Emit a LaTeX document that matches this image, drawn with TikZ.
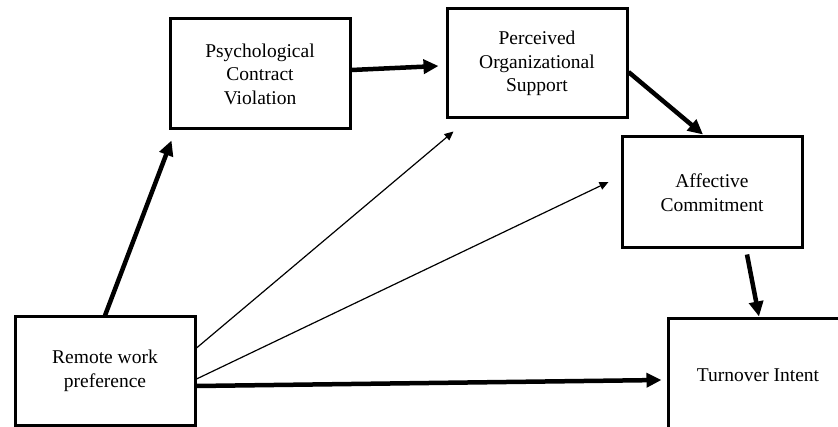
\documentclass[tikz,border=0pt]{standalone}
\usepackage{fontspec}
\setmainfont{Liberation Serif}
\usetikzlibrary{arrows.meta}
\begin{document}
\begin{tikzpicture}[x=1pt,y=-1pt,
  box/.style={draw, line width=3pt, rectangle, inner sep=0pt, align=center,
    minimum width=180pt, font=\fontsize{19.5}{23.5}\selectfont},
  bold/.style={line width=4.5pt, -{Triangle[length=15pt,width=14pt]}},
  fine/.style={line width=1.2pt, -{Triangle[length=9pt,width=8pt]}},
]
\useasboundingbox (0,0) rectangle (838,427);
\fill[white] (0,0) rectangle (838,427);
\clip (0,0) rectangle (838,427);

% constructs
\node[box, minimum height=110pt] (pcv) at (260,74) {Psychological\\Contract\\Violation};
\node[box, minimum height=109pt] (pos) at (537,63.5) {Perceived\\Organizational\\Support};
\node[box, minimum height=111pt] (ac) at (712,192.5) {Affective\\Commitment};
\node[box, minimum height=108pt] (rw) at (105,371) {Remote work\\preference};
\node[box, minimum height=113pt] (ti) at (758,375.5) {Turnover Intent};

% hypothesised paths
\draw[bold] (rw.north) -- ([xshift=3pt,yshift=-10pt]pcv.south west);
\draw[bold] ([yshift=4pt]pcv.east) -- ([xshift=-7pt,yshift=-2.5pt]pos.west);
\draw[bold] ([yshift=-8.5pt]pos.east) -- ([xshift=-9pt,yshift=1pt]ac.north);
\draw[bold] ([xshift=35pt,yshift=-5pt]ac.south) -- ([xshift=1pt,yshift=1pt]ti.north);
\draw[bold] ([yshift=-15pt]rw.east) -- ([xshift=-5pt,yshift=-4.5pt]ti.west);

% direct paths
\draw[fine] ([yshift=23pt]rw.east) -- ([xshift=8pt,yshift=-12pt]pos.south west);
\draw[fine] ([yshift=-8pt]rw.east) -- ([xshift=-12pt,yshift=10.5pt]ac.west);
\end{tikzpicture}
\end{document}
